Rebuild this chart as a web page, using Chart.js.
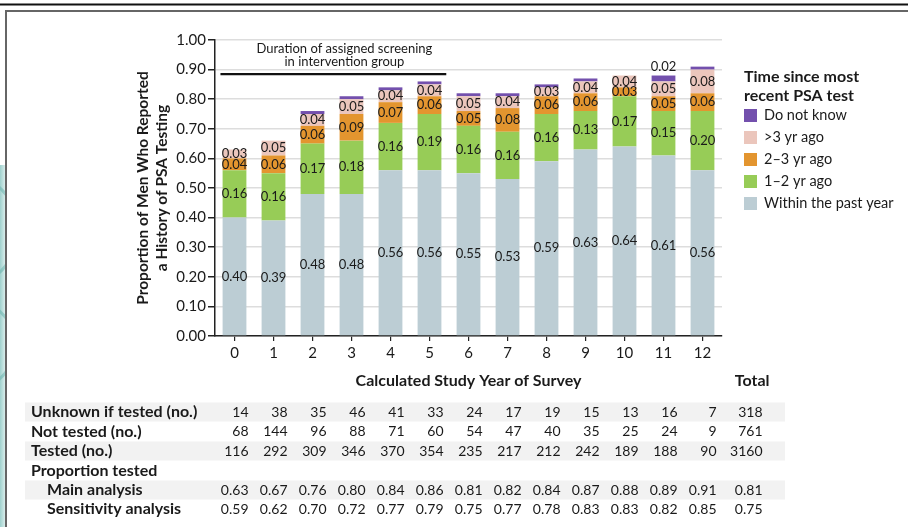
<!DOCTYPE html>
<html>
<head>
<meta charset="utf-8">
<script src="https://cdn.jsdelivr.net/npm/chart.js@4.4.1/dist/chart.umd.min.js"></script>
<style>
  html, body { margin: 0; padding: 0; background: #fff; }
  #wrap { width: 908px; height: 527px; }
</style>
</head>
<body>
<div id="wrap"><canvas id="psa-chart" width="908" height="527"></canvas></div>
<script>
const ctx = document.getElementById('psa-chart').getContext('2d');
const FONT = 'Lato, "Open Sans", sans-serif';

// ----------------------------------------------
// Data
// ----------------------------------------------
const years = ['0', '1', '2', '3', '4', '5', '6', '7', '8', '9', '10', '11', '12'];

const withinPastYear = [0.40, 0.39, 0.48, 0.48, 0.56, 0.56, 0.55, 0.53, 0.59, 0.63, 0.64, 0.61, 0.56];
const oneToTwoYr = [0.16, 0.16, 0.17, 0.18, 0.16, 0.19, 0.16, 0.16, 0.16, 0.13, 0.17, 0.15, 0.20];
const twoToThreeYr = [0.04, 0.06, 0.06, 0.09, 0.07, 0.06, 0.05, 0.08, 0.06, 0.06, 0.03, 0.05, 0.06];
const overThreeYr = [0.03, 0.05, 0.04, 0.05, 0.04, 0.04, 0.05, 0.04, 0.03, 0.04, 0.04, 0.05, 0.08];
const doNotKnow = [0, 0, 0.01, 0.01, 0.01, 0.01, 0.01, 0.01, 0.01, 0.01, 0, 0.02, 0.01];

const unknownIfTested = [14, 38, 35, 46, 41, 33, 24, 17, 19, 15, 13, 16, 7];
const notTested = [68, 144, 96, 88, 71, 60, 54, 47, 40, 35, 25, 24, 9];
const tested = [116, 292, 309, 346, 370, 354, 235, 217, 212, 242, 189, 188, 90];
const mainAnalysis = [0.63, 0.67, 0.76, 0.80, 0.84, 0.86, 0.81, 0.82, 0.84, 0.87, 0.88, 0.89, 0.91];
const sensitivityAnalysis = [0.59, 0.62, 0.70, 0.72, 0.77, 0.79, 0.75, 0.77, 0.78, 0.83, 0.83, 0.82, 0.85];
const totals = { unknown: 318, notTested: 761, tested: 3160, main: 0.81, sensitivity: 0.75 };

// screening period marker (category positions, y value)
const screeningStart = -0.36;
const screeningEnd = 5.43;
const screeningLevel = 0.885;

// ----------------------------------------------
// Plugins
// ----------------------------------------------
const framePlugin = {
  id: 'frame',
  beforeDraw: chart => {
    const c = chart.ctx;
    c.save();
    c.fillStyle = '#fff';
    c.fillRect(0, 0, chart.width, chart.height);
    // teal swirl peeking in on the left
    const g = c.createLinearGradient(0, 0, 6, 0);
    g.addColorStop(0, '#9fd1cd');
    g.addColorStop(1, '#e3f2f1');
    c.fillStyle = g;
    c.fillRect(0, 165, 6, chart.height - 165);
    c.beginPath();
    c.rect(0, 0, 22, chart.height);
    c.clip();
    c.strokeStyle = 'rgba(90, 170, 165, 0.45)';
    c.lineWidth = 3;
    c.beginPath();
    c.arc(-40, 230, 58, -0.9, 0.9);
    c.stroke();
    c.beginPath();
    c.arc(-30, 345, 45, -0.9, 0.9);
    c.stroke();
    c.restore();

    c.save();
    c.strokeStyle = '#111';
    c.lineWidth = 2;
    c.beginPath();
    c.moveTo(0, 4.5);
    c.lineTo(chart.width, 4.5);
    c.stroke();
    c.strokeStyle = '#666';
    c.fillStyle = '#fff';
    c.fillRect(7, 12, chart.width, chart.height);
    c.beginPath();
    c.moveTo(6, chart.height);
    c.lineTo(6, 11);
    c.lineTo(chart.width, 11);
    c.stroke();
    c.restore();
  },
};

const barLabelsPlugin = {
  id: 'barLabels',
  afterDatasetsDraw: chart => {
    const c = chart.ctx;
    c.save();
    c.font = '13px ' + FONT;
    c.fillStyle = '#1a1a1a';
    c.textAlign = 'center';
    c.textBaseline = 'middle';
    chart.data.datasets.forEach((ds, i) => {
      const meta = chart.getDatasetMeta(i);
      meta.data.forEach((bar, j) => {
        const v = ds.data[j];
        if (ds.label === 'Do not know') {
          if (v >= 0.02) c.fillText(v.toFixed(2), bar.x, bar.y - 9);
          return;
        }
        c.fillText(v.toFixed(2), bar.x, (bar.y + bar.base) / 2);
      });
    });
    c.restore();
  },
};

const extrasPlugin = {
  id: 'extras',
  afterDraw: chart => {
    const c = chart.ctx;
    const x = chart.scales.x;
    const y = chart.scales.y;
    c.save();

    // screening duration line
    const yLine = y.getPixelForValue(screeningLevel);
    const x0 = x.getPixelForValue(screeningStart);
    const x1 = x.getPixelForValue(screeningEnd);
    c.strokeStyle = '#111';
    c.lineWidth = 2.2;
    c.beginPath();
    c.moveTo(x0, yLine);
    c.lineTo(x1, yLine);
    c.stroke();
    c.fillStyle = '#1a1a1a';
    c.font = '13px ' + FONT;
    c.textAlign = 'center';
    c.textBaseline = 'middle';
    const xMid = (x0 + x1) / 2 + 11;
    c.fillText('Duration of assigned screening', xMid, yLine - 25);
    c.fillText('in intervention group', xMid, yLine - 12);

    // legend (top to bottom = reverse stack order)
    const lx = 744;
    c.textAlign = 'left';
    c.font = 'bold 16px ' + FONT;
    c.fillText('Time since most', lx, 77);
    c.fillText('recent PSA test', lx, 96);
    c.font = '14.5px ' + FONT;
    const items = chart.data.datasets.slice().reverse();
    items.forEach((ds, k) => {
      const cy = 115.5 + k * 22;
      c.fillStyle = ds.backgroundColor;
      c.fillRect(lx, cy - 6.5, 13, 13);
      c.fillStyle = '#1a1a1a';
      c.fillText(ds.label, lx + 20, cy);
    });

    // table under the chart
    const rowY = [412, 431.5, 451, 470.5, 490, 509];
    const bandLeft = 25;
    const bandRight = 785;
    c.fillStyle = '#f2f2f2';
    [0, 2, 4].forEach(r => c.fillRect(bandLeft, rowY[r] - 9.5, bandRight - bandLeft, 19));

    const totalX = x.getPixelForValue(13) + 21;
    c.fillStyle = '#1a1a1a';
    c.font = 'bold 16px ' + FONT;
    c.textAlign = 'right';
    c.fillText('Total', totalX + 7, 381);

    const rows = [
      { label: 'Unknown if tested (no.)', indent: 0, values: unknownIfTested, total: totals.unknown },
      { label: 'Not tested (no.)', indent: 0, values: notTested, total: totals.notTested },
      { label: 'Tested (no.)', indent: 0, values: tested, total: totals.tested },
      { label: 'Proportion tested', indent: 0, values: null },
      { label: 'Main analysis', indent: 16, values: mainAnalysis, total: totals.main, fixed: true },
      { label: 'Sensitivity analysis', indent: 16, values: sensitivityAnalysis, total: totals.sensitivity, fixed: true },
    ];
    rows.forEach((row, r) => {
      const ry = rowY[r];
      c.font = 'bold 16px ' + FONT;
      c.textAlign = 'left';
      c.fillText(row.label, 31 + row.indent, ry);
      if (!row.values) return;
      c.font = '14px ' + FONT;
      c.textAlign = 'right';
      const fmt = v => (row.fixed ? v.toFixed(2) : String(v));
      row.values.forEach((v, j) => c.fillText(fmt(v), x.getPixelForValue(j) + 14, ry));
      c.fillText(fmt(row.total), totalX, ry);
    });

    c.restore();
  },
};

// ----------------------------------------------
// Chart
// ----------------------------------------------
const makeDataset = (label, data, color) => ({
  label,
  data,
  backgroundColor: color,
  borderWidth: 0,
  categoryPercentage: 1,
  barPercentage: 0.61,
});

const initChart = () => {
  const data = {
    labels: years,
    datasets: [
      makeDataset('Within the past year', withinPastYear, '#bccdd4'),
      makeDataset('1\u20132 yr ago', oneToTwoYr, '#97cc57'),
      makeDataset('2\u20133 yr ago', twoToThreeYr, '#e3952f'),
      makeDataset('>3 yr ago', overThreeYr, '#ebc6bc'),
      makeDataset('Do not know', doNotKnow, '#7350ad'),
    ],
  };

  const myChart = new Chart(ctx, {
    type: 'bar',
    data,
    plugins: [framePlugin, barLabelsPlugin, extrasPlugin],
    options: {
      responsive: false,
      animation: false,
      devicePixelRatio: 1,
      layout: { padding: { left: 134, right: 186, top: 40, bottom: 137 } },
      plugins: {
        legend: { display: false },
        tooltip: { enabled: false },
      },
      scales: {
        x: {
          stacked: true,
          afterFit: s => { s.height = 54; },
          grid: { display: true, drawOnChartArea: false, offset: false, tickLength: 5, tickColor: '#222', lineWidth: 1.2 },
          border: { color: '#222', width: 1.5 },
          ticks: { color: '#1a1a1a', font: { family: FONT, size: 15 }, padding: 3 },
          title: {
            display: true,
            text: 'Calculated Study Year of Survey',
            color: '#1a1a1a',
            font: { family: FONT, size: 16, weight: 'bold' },
            padding: { top: 0, bottom: 0 },
          },
        },
        y: {
          stacked: true,
          min: 0,
          max: 1,
          afterFit: s => { s.width = 81; },
          grid: { color: '#dddddd', lineWidth: 1.5, tickLength: 7, tickColor: '#222' },
          border: { color: '#222', width: 1.5 },
          ticks: {
            stepSize: 0.1,
            padding: 2,
            color: '#1a1a1a',
            font: { family: FONT, size: 15 },
            callback: v => v.toFixed(2),
          },
          title: {
            display: true,
            text: ['Proportion of Men Who Reported', 'a History of PSA Testing'],
            color: '#1a1a1a',
            font: { family: FONT, size: 15.5, weight: 'bold', lineHeight: 1.2 },
            padding: { top: 0, bottom: 0 },
          },
        },
      },
    },
  });
};

initChart();
</script>
</body>
</html>
